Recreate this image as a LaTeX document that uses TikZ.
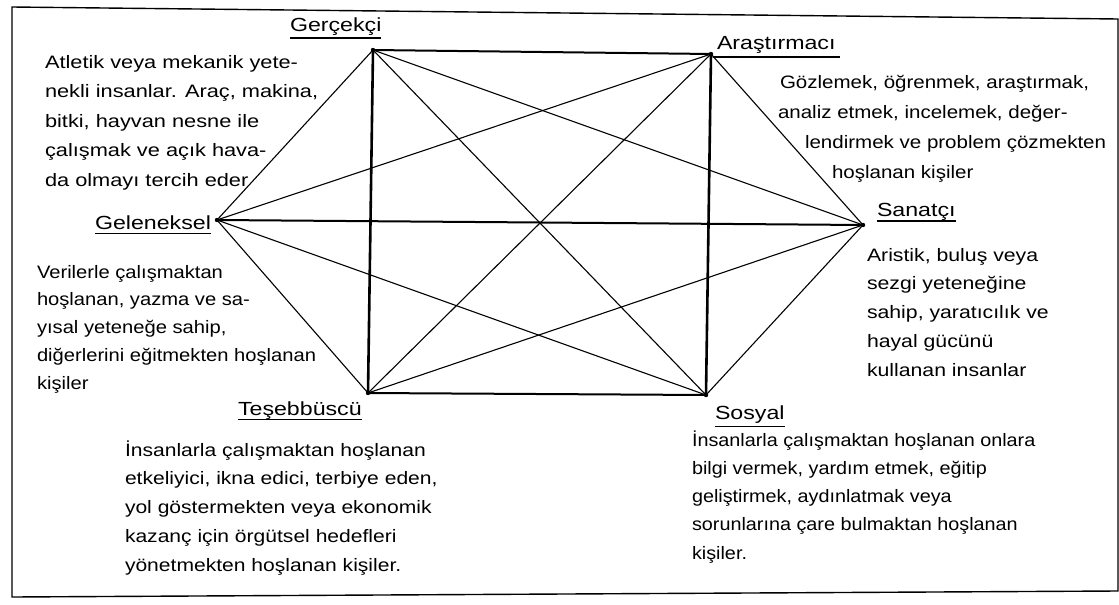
\documentclass[tikz,border=0pt]{standalone}
\usepackage{fontspec}
\setmainfont{Liberation Sans}
\newfontfamily\fGer[FakeStretch=1.21]{Liberation Sans}
\newfontfamily\fAra[FakeStretch=1.14]{Liberation Sans}
\newfontfamily\fSan[FakeStretch=1.18]{Liberation Sans}
\newfontfamily\fGel[FakeStretch=1.12]{Liberation Sans}
\newfontfamily\fTes[FakeStretch=1.17]{Liberation Sans}
\newfontfamily\fSos[FakeStretch=1.10]{Liberation Sans}
\newfontfamily\fLab[FakeStretch=1.22]{Liberation Sans}
\begin{document}
\begin{tikzpicture}[x=1pt,y=-1pt,
  blk/.style={anchor=base west, inner sep=0pt, outer sep=0pt},
  lab/.style={anchor=base west, inner sep=0pt, outer sep=0pt, font=\fLab\fontsize{19}{22}\selectfont},
  uline/.style={line width=1.3pt},
  heavy/.style={line width=2.6pt},
  mid/.style={line width=2pt},
  thin/.style={line width=1.1pt},
  frame/.style={line width=1.4pt},
  vdot/.style={fill=black}]
\useasboundingbox (0,0) rectangle (1119,605);
\fill[white] (0,0) rectangle (1119,605);
% frame
\coordinate (f1) at (12,7);
\coordinate (f2) at (1118,19);
\coordinate (f3) at (1118,591);
\coordinate (f4) at (12,597);
\draw[frame] (f1) -- (f2) -- (f3) -- (f4) -- cycle;
% vertices
\coordinate (G) at (373,50);
\coordinate (A) at (711,54);
\coordinate (San) at (863,225);
\coordinate (Sos) at (706,395);
\coordinate (T) at (368,393);
\coordinate (Gel) at (217,220);
% outer hexagon edges
\draw[thin] (G) -- (Gel);
\draw[thin] (Gel) -- (T);
\draw[thin] (A) -- (San);
\draw[thin] (San) -- (Sos);
% diagonals
\draw[thin] (G) -- (Sos);
\draw[thin] (A) -- (T);
\draw[thin] (G) -- (San);
\draw[thin] (A) -- (Gel);
\draw[thin] (Gel) -- (Sos);
\draw[thin] (T) -- (San);
% rectangle and horizontal
\draw[mid] (Gel) -- (San);
\draw[mid] (G) -- (A);
\draw[mid] (T) -- (Sos);
\draw[heavy] (G) -- (T);
\draw[heavy] (A) -- (Sos);
\foreach \v in {G,A,San,Sos,T,Gel} \fill[vdot] (\v) circle (2.2pt);
% labels
\node[lab] (gerL) at (290,31) {Gerçekçi};
\node[lab] (araL) at (717,49) {Araştırmacı};
\node[lab] (sanL) at (877,216) {Sanatçı};
\node[lab] (gelL) at (95,229) {Geleneksel};
\node[lab] (tesL) at (238,415) {Teşebbüscü};
\node[lab] (sosL) at (715,419) {Sosyal};
\draw[uline] ([yshift=-7pt]gerL.base west) -- ([yshift=-7pt]gerL.base east);
\draw[line width=2pt] ([xshift=-4pt,yshift=-8pt]araL.base west) -- ([xshift=4pt,yshift=-8pt]araL.base east);
\draw[uline] ([yshift=-5pt]sanL.base west) -- ([yshift=-5pt]sanL.base east);
\draw[uline] ([yshift=-4.5pt]gelL.base west) -- ([yshift=-4.5pt]gelL.base east);
\draw[uline] ([yshift=-4.5pt]tesL.base west) -- ([yshift=-4.5pt]tesL.base east);
\draw[uline] ([yshift=-7.5pt]sosL.base west) -- ([yshift=-7.5pt]sosL.base east);
% text blocks
\node[blk] (gerT) at (45,68) {\fGer\fontsize{18}{29.5}\selectfont\begin{tabular}[t]{@{}l@{}}
Atletik veya mekanik yete-\\
nekli insanlar. Araç, makina,\\
bitki, hayvan nesne ile\\
çalışmak ve açık hava-\\
da olmayı tercih eder\end{tabular}};
\node[blk] (araT) at (778,88) {\fAra\fontsize{18}{30}\selectfont\begin{tabular}[t]{@{}l@{}}
\hspace*{2pt}Gözlemek, öğrenmek, araştırmak,\\
analiz etmek, incelemek, değer-\\
\hspace*{27pt}lendirmek ve problem çözmekten\\
\hspace*{54pt}hoşlanan kişiler\end{tabular}};
\node[blk] (sanT) at (867,261) {\fSan\fontsize{18}{28.75}\selectfont\begin{tabular}[t]{@{}l@{}}
Aristik, buluş veya\\
sezgi yeteneğine\\
sahip, yaratıcılık ve\\
hayal gücünü\\
kullanan insanlar\end{tabular}};
\node[blk] (gelT) at (37,278) {\fGel\fontsize{18}{27.75}\selectfont\begin{tabular}[t]{@{}l@{}}
Verilerle çalışmaktan\\
hoşlanan, yazma ve sa-\\
yısal yeteneğe sahip,\\
diğerlerini eğitmekten hoşlanan\\
kişiler\end{tabular}};
\node[blk] (tesT) at (125,456) {\fTes\fontsize{18}{28.75}\selectfont\begin{tabular}[t]{@{}l@{}}
İnsanlarla çalışmaktan hoşlanan\\
etkeliyici, ikna edici, terbiye eden,\\
yol göstermekten veya ekonomik\\
kazanç için örgütsel hedefleri\\
yönetmekten hoşlanan kişiler.\end{tabular}};
\node[blk] (sosT) at (692,446) {\fSos\fontsize{18}{28.25}\selectfont\begin{tabular}[t]{@{}l@{}}
İnsanlarla çalışmaktan hoşlanan onlara\\
bilgi vermek, yardım etmek, eğitip\\
geliştirmek, aydınlatmak veya\\
sorunlarına çare bulmaktan hoşlanan\\
kişiler.\end{tabular}};
\end{tikzpicture}
\end{document}
